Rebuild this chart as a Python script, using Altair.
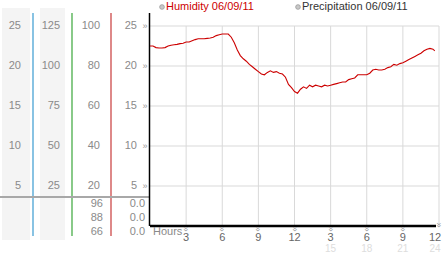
import altair as alt
import pandas as pd

# ---------------- data ----------------
hours = [0.00, 0.25, 0.50, 0.75, 1.00, 1.25, 1.50, 1.75, 2.00, 2.25, 2.50, 2.75,
         3.00, 3.25, 3.50, 3.75, 4.00, 4.25, 4.50, 4.75, 5.00, 5.25, 5.50, 5.75,
         6.00, 6.25, 6.50, 6.75, 7.00, 7.25, 7.50, 7.75, 8.00, 8.25, 8.50, 8.75,
         9.00, 9.25, 9.50, 9.75, 10.00, 10.25, 10.50, 10.75, 11.00, 11.25, 11.50, 11.75,
         12.00, 12.25, 12.50, 12.75, 13.00, 13.25, 13.50, 13.75, 14.00, 14.25, 14.50, 14.75,
         15.00, 15.25, 15.50, 15.75, 16.00, 16.25, 16.50, 16.75, 17.00, 17.25, 17.50, 17.75,
         18.00, 18.25, 18.50, 18.75, 19.00, 19.25, 19.50, 19.75, 20.00, 20.25, 20.50, 20.75,
         21.00, 21.25, 21.50, 21.75, 22.00, 22.25, 22.50, 22.75, 23.00, 23.25, 23.50, 23.65]
humidity = [22.5, 22.5, 22.3, 22.25, 22.25, 22.3, 22.5, 22.6, 22.65, 22.7, 22.8, 22.85,
            23.0, 23.0, 23.15, 23.3, 23.4, 23.4, 23.4, 23.45, 23.5, 23.6, 23.8, 23.9,
            24.0, 24.0, 24.0, 23.6, 22.9, 22.0, 21.3, 20.9, 20.6, 20.2, 19.9, 19.6,
            19.3, 19.0, 18.9, 19.2, 19.4, 19.2, 19.3, 19.1, 19.0, 18.6, 17.7, 17.3,
            16.8, 16.6, 17.1, 17.4, 17.2, 17.6, 17.4, 17.6, 17.5, 17.4, 17.6, 17.5,
            17.6, 17.7, 17.8, 17.9, 18.0, 18.0, 18.3, 18.4, 18.5, 18.9, 18.9, 18.9,
            18.9, 19.1, 19.5, 19.6, 19.5, 19.5, 19.6, 19.8, 19.9, 20.2, 20.1, 20.3,
            20.4, 20.6, 20.8, 21.0, 21.2, 21.4, 21.6, 21.9, 22.1, 22.2, 22.1, 21.9]

left_ticks = [25, 20, 15, 10, 5]
col1_labels = ["25", "20", "15", "10", "5"]
col2_labels = ["125", "100", "75", "50", "25"]
col3_labels = ["100", "80", "60", "40", "20"]
col4_labels = ["25", "20", "15", "10", "5"]

hour_ticks = [3, 6, 9, 12, 15, 18, 21, 24]
hour_labels_top = ["3", "6", "9", "12", "3", "6", "9", "12"]
hour_labels_bottom = ["", "", "", "", "15", "18", "21", "24"]

summary_col3 = ["96", "88", "66"]
summary_col4 = ["0.0", "0.0", "0.0"]

legend_names = ["Humidity 06/09/11", "Precipitation 06/09/11"]
legend_colors = ["#cc0000", "#333333"]

# ---------------- styling ----------------
FONT = "Liberation Sans"
W, H = 289, 213
YMAX = 26.625
LABEL_GRAY = "#8a8a8a"
GRID = "#d9d9d9"

xs = alt.Scale(domain=[0, 24], nice=False, zero=False)
ys = alt.Scale(domain=[0, YMAX], nice=False, zero=False)

one = pd.DataFrame({"k": [0]})
line_df = pd.DataFrame({"hour": hours, "humidity": humidity})
left_df = pd.DataFrame({"pos": left_ticks, "c1": col1_labels, "c2": col2_labels,
                        "c3": col3_labels, "c4": col4_labels})
xt_df = pd.DataFrame({"hour": hour_ticks, "top": hour_labels_top, "bottom": hour_labels_bottom})
xt_main = xt_df[xt_df["hour"] < 24]
xt_last = xt_df[xt_df["hour"] == 24]

layers = []

# gray strips in the left panel
for x0, x1 in [(-148, -120), (-110, -85)]:
    layers.append(alt.Chart(one).mark_rect(color="#f4f4f4").encode(
        x=alt.value(x0), x2=alt.value(x1), y=alt.value(-5), y2=alt.value(227)))

# coloured separators
for xv, col in [(-117, "#3a9bd0"), (-78, "#3aa63a"), (-39, "#c83a3a")]:
    layers.append(alt.Chart(one).mark_rule(color=col, strokeWidth=1.2).encode(
        x=alt.value(xv), y=alt.value(0), y2=alt.value(223)))

# horizontal gray separator
layers.append(alt.Chart(one).mark_rule(color="#a8a8a8", strokeWidth=2).encode(
    x=alt.value(-150), x2=alt.value(0), y=alt.value(184)))

# vertical grid lines
layers.append(alt.Chart(xt_df).mark_rule(color=GRID, strokeWidth=1).encode(
    x=alt.X("hour:Q", scale=xs, axis=None),
    y=alt.datum(0, axis=None), y2=alt.datum(25)))

# horizontal grid lines
layers.append(alt.Chart(left_df).mark_rule(color=GRID, strokeWidth=1).encode(
    y=alt.Y("pos:Q", scale=ys, axis=None),
    x=alt.datum(0, axis=None), x2=alt.datum(24)))

# axis lines
layers.append(alt.Chart(one).mark_rule(color="black", strokeWidth=1.5).encode(
    x=alt.value(-0.5), y=alt.value(0), y2=alt.value(H)))
layers.append(alt.Chart(one).mark_rule(color="black", strokeWidth=2.5).encode(
    x=alt.value(0), x2=alt.value(W - 3), y=alt.value(H)))

# humidity line
layers.append(alt.Chart(line_df).mark_line(color="#cc0000", strokeWidth=1.1).encode(
    x=alt.X("hour:Q", scale=xs, axis=None),
    y=alt.Y("humidity:Q", scale=ys, axis=None)))

# left column labels
for field, xr in [("c1", -129), ("c2", -90), ("c3", -50), ("c4", -13)]:
    layers.append(alt.Chart(left_df).mark_text(
        align="right", baseline="middle", font=FONT, fontSize=11, color=LABEL_GRAY).encode(
        x=alt.value(xr), y=alt.Y("pos:Q", scale=ys, axis=None), text=f"{field}:N"))

# y tick glyphs
layers.append(alt.Chart(left_df).mark_text(
    text="»", align="center", baseline="middle", font=FONT, fontSize=9, color="#999999").encode(
    x=alt.value(-5), y=alt.Y("pos:Q", scale=ys, axis=None)))

# summary rows under the separator
for i, (a, b) in enumerate(zip(summary_col3, summary_col4)):
    yv = 191 + 14 * i
    for txt, xr in [(a, -47), (b, -5)]:
        layers.append(alt.Chart(one).mark_text(
            text=txt, align="right", baseline="middle", font=FONT, fontSize=11,
            color=LABEL_GRAY).encode(x=alt.value(xr), y=alt.value(yv)))

# x axis pieces
layers.append(alt.Chart(one).mark_text(
    text="Hours", align="left", baseline="middle", font=FONT, fontSize=11, color=LABEL_GRAY).encode(
    x=alt.value(3), y=alt.value(219)))
for sub, dx in [(xt_main, 0), (xt_last, -4)]:
    layers.append(alt.Chart(sub).mark_text(
        text="»", angle=90, align="center", baseline="middle", font=FONT, fontSize=9,
        color="#999999", dx=dx).encode(
        x=alt.X("hour:Q", scale=xs, axis=None), y=alt.value(216)))
    layers.append(alt.Chart(sub).mark_text(
        align="center", baseline="middle", font=FONT, fontSize=11, color="#666666", dx=dx).encode(
        x=alt.X("hour:Q", scale=xs, axis=None), y=alt.value(225), text="top:N"))
    layers.append(alt.Chart(sub).mark_text(
        align="center", baseline="middle", font=FONT, fontSize=10, color="#dddddd", dx=dx).encode(
        x=alt.X("hour:Q", scale=xs, axis=None), y=alt.value(236), text="bottom:N"))

# legend at the top
for name, col, xv in zip(legend_names, legend_colors, [12, 148]):
    layers.append(alt.Chart(one).mark_point(
        shape="circle", filled=True, size=22, fill="#c8c8c8", stroke="#999999",
        strokeWidth=0.8, opacity=1).encode(x=alt.value(xv), y=alt.value(-6)))
    layers.append(alt.Chart(one).mark_text(
        text=name, align="left", baseline="middle", font=FONT, fontSize=11, color=col).encode(
        x=alt.value(xv + 4), y=alt.value(-6)))

chart = alt.layer(*layers).properties(
    width=W, height=H,
    autosize=alt.AutoSizeParams(type="none"),
    padding={"left": 150, "top": 13, "right": 3, "bottom": 27},
    background="white",
).configure_view(stroke=None)

chart.save("out.html", embed_options={"renderer": "svg", "actions": False})
